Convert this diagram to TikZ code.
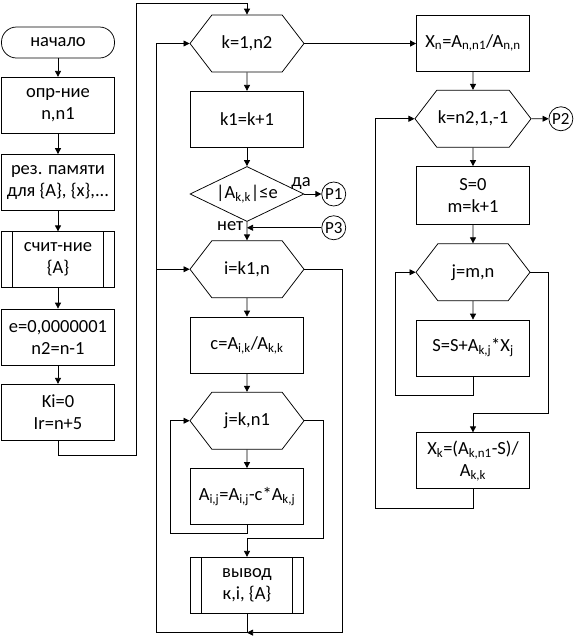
\documentclass[tikz,border=0pt]{standalone}
\usepackage{fontspec}
\setmainfont{Carlito}
\usetikzlibrary{calc,arrows.meta,positioning,shapes.geometric,shapes.symbols}

\tikzset{
  block/.style={draw, rectangle, minimum width=113pt, minimum height=56pt, align=center, inner sep=2pt},
  term/.style={draw, rectangle, rounded corners=15pt, minimum width=113pt, minimum height=31pt},
  subproc/.style={block, path picture={
      \draw ([xshift=11pt]path picture bounding box.north west) -- ([xshift=11pt]path picture bounding box.south west)
            ([xshift=-11pt]path picture bounding box.north east) -- ([xshift=-11pt]path picture bounding box.south east);}},
  loopbox/.style={draw, signal, signal to=east and west, signal pointer angle=105, minimum width=114pt, minimum height=57pt, align=center, inner sep=1pt},
  cond/.style={draw, diamond, aspect=2, minimum width=114pt, minimum height=55pt, inner sep=1pt},
  link/.style={draw, circle, minimum size=24pt, inner sep=0pt, font=\fontsize{17}{20}\selectfont},
}

\begin{document}
\begin{tikzpicture}[x=1pt, y=1pt, node distance=18.5pt, line width=0.75pt,
    font=\fontsize{18.5}{22}\selectfont, >={Triangle[length=6pt,width=6pt]}]
			\useasboundingbox (0,0) rectangle (580,-638);
			
			% left column
			\node[term] (start) at (58,-42.5) {начало};
			\node[block, below=18.5pt of start] (def) {опр-ние\\n,n1};
			\node[block, below=20.5pt of def] (mem) {рез. памяти\\для \{A\}, \{x\},...};
			\node[subproc, below=20.5pt of mem] (read) {счит-ние\\\{A\}};
			\node[block, below=20.5pt of read] (eps) {e=0,0000001\\n2=n-1};
			\node[block, below=18.5pt of eps] (ki) {Ki=0\\Ir=n+5};
			
			% middle column
			\node[loopbox] (kloop) at (247,-43.5) {k=1,n2};
			\node[block, below=of kloop] (kinc) {k1=k+1};
			\node[cond, below=of kinc] (test) {|A\textsubscript{k,k}|≤e};
			\node[loopbox, below=of test] (iloop) {i=k1,n};
			\node[block, below=of iloop] (coef) {c=A\textsubscript{i,k}/A\textsubscript{k,k}};
			\node[loopbox, below=of coef] (jloop) {j=k,n1};
			\node[block, below=of jloop] (elim) {A\textsubscript{i,j}=A\textsubscript{i,j}-c*A\textsubscript{k,j}};
			\node[subproc, below=32pt of elim] (out) {вывод\\к,i, \{A\}};
			\node[link, right=17pt of test] (p1) {P1};
			\node[link, below=9pt of p1] (p3) {P3};
			
			% right column
			\node[block] (xn) at (473,-43) {X\textsubscript{n}=A\textsubscript{n,n1}/A\textsubscript{n,n}};
			\node[loopbox, below=of xn] (kback) {k=n2,1,-1};
			\node[block, below=of kback, minimum height=58pt] (init) {S=0\\m=k+1};
			\node[loopbox, below=of init] (mloop) {j=m,n};
			\node[block, below=of mloop] (sum) {S=S+A\textsubscript{k,j}*X\textsubscript{j}};
			\node[block, below=56pt of sum] (xk) {X\textsubscript{k}=(A\textsubscript{k,n1}-S)/\\A\textsubscript{k,k}};
			\node[link, right=17pt of kback] (p2) {P2};
			
			\draw[->] (start) -- (def);
			\draw[->] (def) -- (mem);
			\draw[->] (mem) -- (read);
			\draw[->] (read) -- (eps);
			\draw[->] (eps) -- (ki);
			\draw[->] (ki.south) -- ++(0,-14.5) -| ($(kloop.north)+(-111,11)$) -| (kloop.north);
			
			\draw[->] (kloop) -- (kinc);
			\draw[->] (kinc) -- (test);
			\draw[->] (test) -- node[pos=0.1, above, xshift=-5pt, inner sep=4pt]{да} (p1);
			\draw[->] (test) -- node[near start, left]{нет} (iloop);
			\draw[->] (p3) -- (p3 -| test.south);
			\draw[->] (iloop) -- (coef);
			\draw[->] (coef) -- (jloop);
			\draw[->] (jloop) -- (elim);
			\draw[->] (elim.south) -- ++(0,-8) -| ($(jloop.west)+(-19,0)$) -- (jloop.west);
			\draw[->] (jloop.east) -- ++(19,0) |- ($(out.north)+(0,19)$) -- (out.north);
			\draw (out.south) -- ($(out.south)+(0,-19)$);
			\draw[->] (iloop.east) -- ++(38,0) |- ($(out.south)+(0,-19)$);
			\draw[->] ($(out.south)+(0,-19)$) -| ($(kloop.west)+(-33,0)$) -- (kloop.west);
			\draw[->] ($(iloop.west)+(-33,0)$) -- (iloop.west);
			\draw[->] (kloop.east) -- (kloop.east -| xn.west);
			
			\draw[->] (xn) -- (kback);
			\draw[->] (kback) -- (p2);
			\draw[->] (kback) -- (init);
			\draw[->] (init) -- (mloop);
			\draw[->] (mloop) -- (sum);
			\draw[->] (sum.south) -- ++(0,-19) -| ($(mloop.west)+(-20,0)$) -- (mloop.west);
			\draw[->] (mloop.east) -- ++(18,0) |- ($(xk.north)+(0,19)$) -- (xk.north);
			\draw[->] (xk.south) -- ++(0,-19) -| ($(kback.west)+(-39,0)$) -- (kback.west);
		\end{tikzpicture}
\end{document}
